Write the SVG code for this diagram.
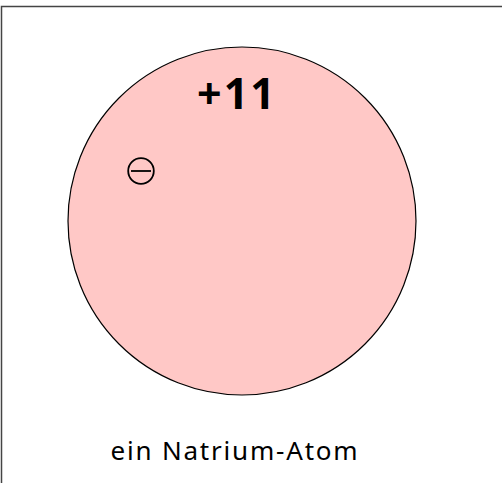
<svg xmlns="http://www.w3.org/2000/svg" width="502" height="483" viewBox="0 0 502 483">
<style>
.t{font-family:"Noto Sans","DejaVu Sans",sans-serif;fill:#000}
</style>
<rect width="502" height="483" fill="#fff"/>
<path d="M1.5 483 V6.5 H502" fill="none" stroke="#444" stroke-width="1.5"/>
<g id="atom">
<circle cx="242" cy="221" r="174" fill="#ffc8c6" stroke="#000" stroke-width="1.2"/>
<text class="t" x="237" y="109" font-size="43" font-weight="bold" letter-spacing="2" text-anchor="middle">+11</text>
</g>
<g id="electron">
<circle cx="141" cy="171" r="12.8" fill="none" stroke="#000" stroke-width="1.8"/>
<line x1="131" y1="171" x2="151" y2="171" stroke="#000" stroke-width="1.8"/>
</g>
<g id="label">
<text class="t" x="235" y="460" font-size="26" letter-spacing="1.8" text-anchor="middle">ein Natrium-Atom</text>
</g>
<g id="connectors"/>
</svg>
